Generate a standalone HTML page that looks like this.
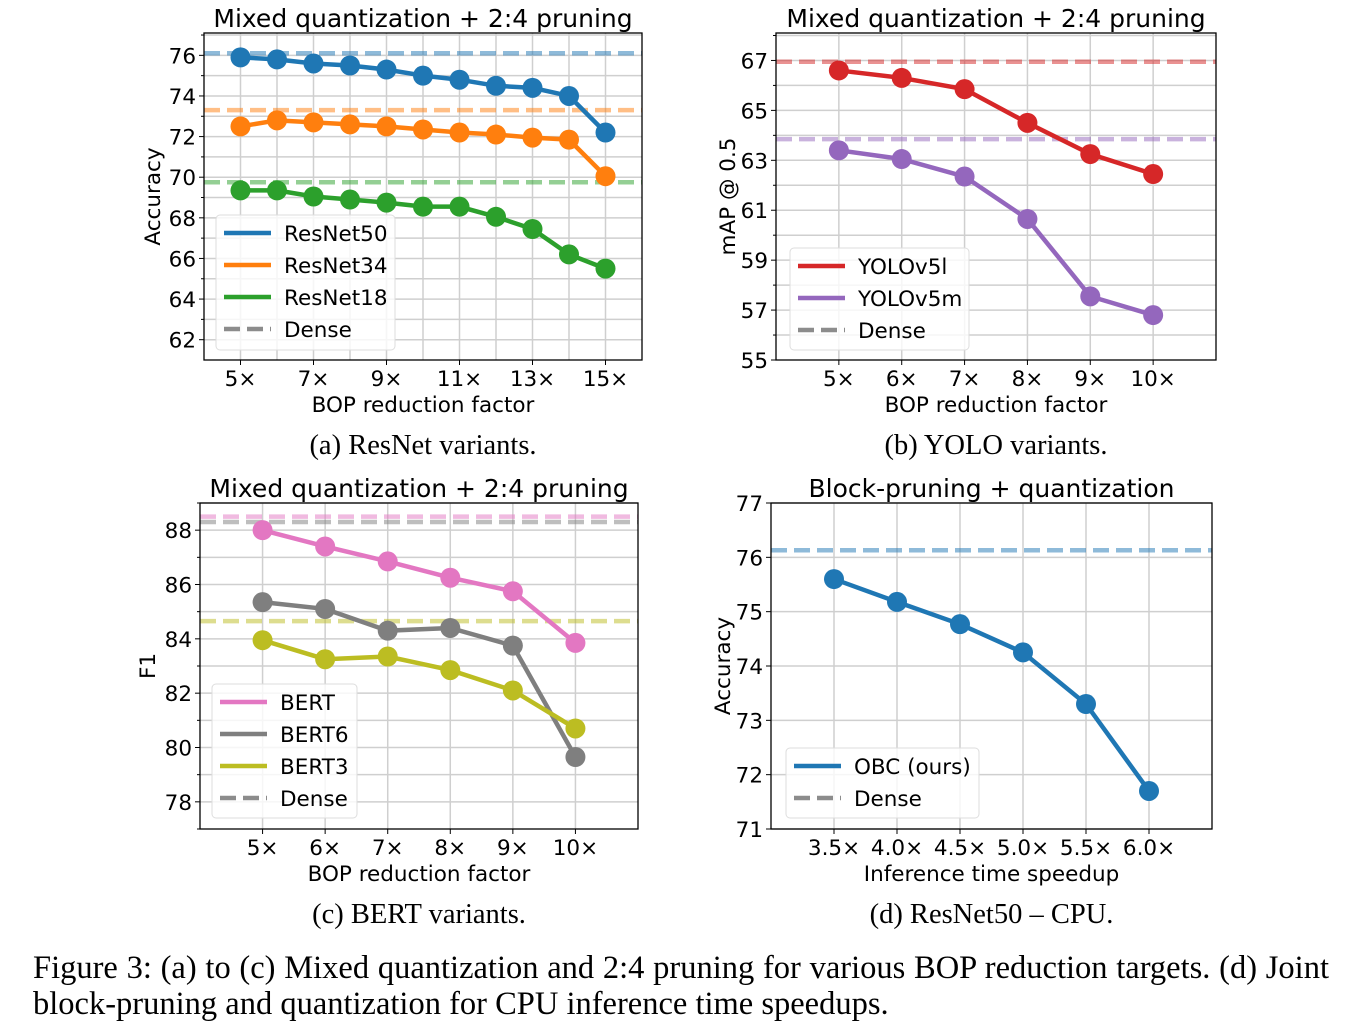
<!DOCTYPE html>
<html><head><meta charset="utf-8"><style>
body{margin:0;background:#fff;width:1354px;height:1028px;overflow:hidden}
svg{display:block}
text{font-family:"DejaVu Sans","Liberation Sans",sans-serif;fill:#000}
.cap{font-family:"Liberation Serif",serif}
</style></head><body>
<svg id="fig" width="1354" height="1028"></svg>
<script>
// ---- data ----
const xA=[5,6,7,8,9,10,11,12,13,14,15];
const r50=[75.9,75.8,75.6,75.5,75.3,75.0,74.8,74.5,74.4,74.0,72.2];
const r34=[72.5,72.8,72.7,72.6,72.5,72.35,72.2,72.1,71.95,71.85,70.05];
const r18=[69.35,69.35,69.05,68.9,68.75,68.55,68.55,68.05,67.45,66.2,65.5];
const denseA=[76.1,73.3,69.75];
const xB=[5,6,7,8,9,10];
const yolo5l=[66.6,66.3,65.85,64.5,63.25,62.45];
const yolo5m=[63.4,63.05,62.35,60.65,57.55,56.8];
const denseB=[66.95,63.85];
const xC=[5,6,7,8,9,10];
const bert=[88.0,87.4,86.85,86.25,85.75,83.85];
const bert6=[85.35,85.1,84.3,84.4,83.75,79.65];
const bert3=[83.95,83.25,83.35,82.85,82.1,80.7];
const denseC=[88.5,88.3,84.65];
const xD=[3.5,4.0,4.5,5.0,5.5,6.0];
const obc=[75.6,75.18,74.77,74.25,73.3,71.7];
const denseD=[76.13];
const ticksAx=[5,7,9,11,13,15], ticksAy=[62,64,66,68,70,72,74,76];
const ticksBy=[55,57,59,61,63,65,67];
const ticksCy=[78,80,82,84,86,88];
const ticksDy=[71,72,73,74,75,76,77];

const NS='http://www.w3.org/2000/svg';
const svg=document.getElementById('fig');
function el(tag,attrs,parent,txt){const e=document.createElementNS(NS,tag);for(const k in attrs)e.setAttribute(k,attrs[k]);if(txt!==undefined)e.textContent=txt;(parent||svg).appendChild(e);return e;}

function panel(o){
  const g=el('g',{});
  
  
  const X=v=>o.l+(v-o.xr[0])/(o.xr[1]-o.xr[0])*(o.r-o.l);
  const Y=v=>o.b-(v-o.yr[0])/(o.yr[1]-o.yr[0])*(o.b-o.t);
  o.gx.forEach(v=>el('line',{x1:X(v),x2:X(v),y1:o.t,y2:o.b,stroke:'#cfcfcf','stroke-width':1.5},g));
  o.gy.forEach(v=>el('line',{x1:o.l,x2:o.r,y1:Y(v),y2:Y(v),stroke:'#cfcfcf','stroke-width':1.5},g));
  o.dense.forEach((d,i)=>{const ln=el('line',{x1:o.l,x2:o.r,y1:Y(d),y2:Y(d),stroke:o.dcol[i],'stroke-width':4.5,'stroke-dasharray':'16 7',opacity:0.5},g);
    });
  o.series.forEach(s=>{
    const pts=o.xs.map((x,i)=>X(x)+','+Y(s.v[i])).join(' ');
    const pl=el('polyline',{points:pts,fill:'none',stroke:s.c,'stroke-width':4.5},g);
    
    o.xs.forEach((x,i)=>{const c=el('circle',{cx:X(x),cy:Y(s.v[i]),r:10,fill:s.c},g);
      });
  });
  el('rect',{x:o.l,y:o.t,width:o.r-o.l,height:o.b-o.t,fill:'none',stroke:'#000','stroke-width':1.3},g);
  o.tx.forEach((v,i)=>{el('line',{x1:X(v),x2:X(v),y1:o.b,y2:o.b+5,stroke:'#000'},g);
    const t=el('text',{x:X(v),y:o.b+26,'text-anchor':'middle','font-size':21.5},g,o.txl[i]);});
  o.ty.forEach(v=>{el('line',{x1:o.l-5,x2:o.l,y1:Y(v),y2:Y(v),stroke:'#000'},g);
    const t=el('text',{x:o.l-8,y:Y(v)+8,'text-anchor':'end','font-size':21.5},g,String(v));});
  (o.minor||[]).forEach(v=>el('line',{x1:o.l-3,x2:o.l,y1:Y(v),y2:Y(v),stroke:'#000'},g));
  const tt=el('text',{x:(o.l+o.r)/2,y:o.t-6,'text-anchor':'middle','font-size':25},g,o.title);
  const xl=el('text',{x:(o.l+o.r)/2,y:o.b+52,'text-anchor':'middle','font-size':21.5},g,o.xlab);
  const yx=o.ylx,yy=(o.t+o.b)/2;
  const yl=el('text',{x:yx,y:yy,'text-anchor':'middle','font-size':21.5,transform:`rotate(-90 ${yx} ${yy})`},g,o.ylab);
  const L=o.leg;
  const lg=el('g',{},g);
  el('rect',{x:L.x,y:L.y,width:L.w,height:L.h,rx:4,fill:'#fff','fill-opacity':0.8,stroke:'#ddd'},lg);
  L.items.forEach((it,i)=>{const cy=L.y+18+i*32;
    el('line',{x1:L.x+8,x2:L.x+55,y1:cy,y2:cy,stroke:it.c,'stroke-width':4.5,'stroke-dasharray':it.d?'16 7':'none',opacity:it.d?0.9:1},lg);
    const t=el('text',{x:L.x+68,y:cy+8,'font-size':21.5},lg,it.n);});
  const cap=el('text',{x:(o.l+o.r)/2,y:o.b+94,'text-anchor':'middle','font-size':28.5,class:'cap'},g,o.cap);
}
const rng=(a,b,s)=>{const r=[];for(let v=a;v<=b+1e-9;v+=s)r.push(+v.toFixed(2));return r;};

panel({name:'panel-a-resnet',l:204,r:642,t:33,b:360,xr:[4,16],yr:[61,77.1],xs:xA,
 gx:xA,gy:rng(62,77,1),tx:ticksAx,txl:ticksAx.map(v=>v+'×'),ty:ticksAy,minor:rng(63,77,2),
 dense:denseA,dcol:['#1f77b4','#ff7f0e','#2ca02c'],
 series:[{n:'resnet50',c:'#1f77b4',v:r50},{n:'resnet34',c:'#ff7f0e',v:r34},{n:'resnet18',c:'#2ca02c',v:r18}],
 title:'Mixed quantization + 2:4 pruning',xlab:'BOP reduction factor',ylab:'Accuracy',ylx:160,
 leg:{x:216,y:215,w:179,h:135,items:[{n:'ResNet50',c:'#1f77b4'},{n:'ResNet34',c:'#ff7f0e'},{n:'ResNet18',c:'#2ca02c'},{n:'Dense',c:'#808080',d:1}]},
 cap:'(a) ResNet variants.'});
panel({name:'panel-b-yolo',l:776,r:1216,t:33,b:360,xr:[4,11],yr:[55,68.1],xs:xB,
 gx:xB,gy:rng(56,68,1),tx:xB,txl:xB.map(v=>v+'×'),ty:ticksBy,minor:rng(56,68,2),
 dense:denseB,dcol:['#d62728','#9467bd'],
 series:[{n:'yolov5l',c:'#d62728',v:yolo5l},{n:'yolov5m',c:'#9467bd',v:yolo5m}],
 title:'Mixed quantization + 2:4 pruning',xlab:'BOP reduction factor',ylab:'mAP @ 0.5',ylx:735,
 leg:{x:790,y:248,w:179,h:102,items:[{n:'YOLOv5l',c:'#d62728'},{n:'YOLOv5m',c:'#9467bd'},{n:'Dense',c:'#808080',d:1}]},
 cap:'(b) YOLO variants.'});
panel({name:'panel-c-bert',l:200,r:638,t:503,b:829,xr:[4,11],yr:[77,89],xs:xC,
 gx:xC,gy:rng(78,89,1),tx:xC,txl:xC.map(v=>v+'×'),ty:ticksCy,minor:rng(77,89,2),
 dense:denseC,dcol:['#e377c2','#7f7f7f','#bcbd22'],
 series:[{n:'bert',c:'#e377c2',v:bert},{n:'bert6',c:'#7f7f7f',v:bert6},{n:'bert3',c:'#bcbd22',v:bert3}],
 title:'Mixed quantization + 2:4 pruning',xlab:'BOP reduction factor',ylab:'F1',ylx:155,
 leg:{x:212,y:684,w:145,h:134,items:[{n:'BERT',c:'#e377c2'},{n:'BERT6',c:'#7f7f7f'},{n:'BERT3',c:'#bcbd22'},{n:'Dense',c:'#808080',d:1}]},
 cap:'(c) BERT variants.'});
panel({name:'panel-d-cpu',l:771,r:1212,t:503,b:829,xr:[3,6.5],yr:[71,77],xs:xD,
 gx:xD,gy:ticksDy,tx:xD,txl:xD.map(v=>v.toFixed(1)+'×'),ty:ticksDy,
 dense:denseD,dcol:['#1f77b4'],
 series:[{n:'obc',c:'#1f77b4',v:obc}],
 title:'Block-pruning + quantization',xlab:'Inference time speedup',ylab:'Accuracy',ylx:730,
 leg:{x:786,y:748,w:193,h:70,items:[{n:'OBC (ours)',c:'#1f77b4'},{n:'Dense',c:'#808080',d:1}]},
 cap:'(d) ResNet50 – CPU.'});
</script>
<div style="position:absolute;left:33px;top:950px;width:1296px;font-family:'Liberation Serif',serif;font-size:32.5px;line-height:36px;color:#000;text-align:justify">Figure 3: (a) to (c) Mixed quantization and 2:4 pruning for various BOP reduction targets. (d) Joint <span style="white-space:nowrap">block-pruning</span> and quantization for CPU inference time speedups.</div>
</body></html>
